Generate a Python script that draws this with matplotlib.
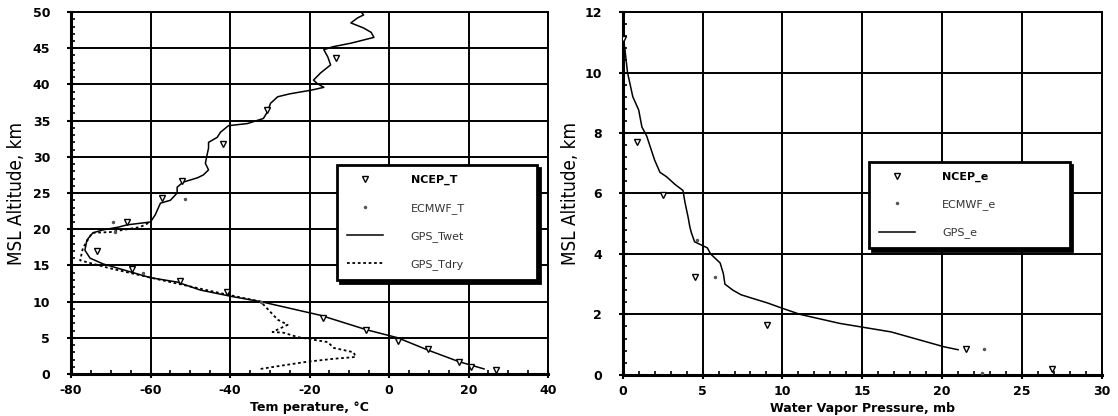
import numpy as np
import matplotlib
matplotlib.use("Agg")
import matplotlib.pyplot as plt
from matplotlib.ticker import MultipleLocator

plt.rcParams.update({"font.family": ["DejaVu Sans"], "font.weight": "bold",
                     "axes.unicode_minus": False})

# left panel: temperature profiles (altitude km, temperature C)
twet_alt = [0.7, 1.7, 3.3, 5.0, 6.1, 8.1, 10.0, 10.7, 11.6, 12.7, 13.3, 15.2, 16.0, 17.1,
            18.5, 19.5, 19.9, 20.3, 20.6, 21.0, 22.0, 23.6, 24.0, 25.0, 25.8, 26.5, 27.1,
            27.5, 28.2, 29.1, 30.2, 31.2, 32.0, 32.7, 33.4, 34.3, 34.6, 35.3, 36.2, 37.4,
            38.3, 38.7, 39.2, 39.6, 40.1, 40.6, 41.6, 42.7, 43.8, 44.8, 45.2, 45.7, 46.5,
            47.2, 47.8, 48.5, 49.2, 49.6, 50.0]
twet_t = [23.9, 17.6, 9.8, 2.2, -5.6, -17.2, -32.3, -39.5, -47.5, -53.3, -60.0, -71.9, -75.2,
          -76.5, -76.0, -74.5, -72.0, -68.0, -65.9, -60.0, -58.8, -57.5, -55.0, -53.3, -53.3,
          -51.8, -48.2, -46.7, -45.4, -46.2, -45.8, -45.4, -45.4, -43.2, -42.4, -40.4, -35.6,
          -31.6, -30.6, -29.8, -28.0, -25.0, -19.7, -16.4, -18.0, -19.0, -17.2, -14.7, -15.4,
          -16.4, -14.2, -9.6, -3.8, -4.5, -6.4, -9.6, -7.9, -6.4, -7.0]

tdry_alt = [0.7, 1.2, 1.7, 2.1, 2.35, 3.0, 3.6, 4.4, 4.8, 5.1, 5.7, 5.8, 6.8, 7.5, 10.0,
            11.0, 13.0, 14.6, 15.7, 17.4, 19.5, 19.6, 20.3, 21.0]
tdry_t = [-32.3, -26.5, -20.5, -13.9, -8.4, -8.9, -13.9, -15.4, -19.7, -23.0, -26.5, -29.3,
          -25.5, -28.0, -32.3, -41.0, -57.5, -70.2, -77.7, -77.0, -74.7, -70.2, -62.6, -60.0]

ncep_t_alt = [0.5, 1.0, 1.7, 3.4, 4.6, 6.1, 7.8, 11.3, 12.8, 14.5, 17.0, 21.0, 24.3, 26.7,
              31.8, 36.5, 43.6]
ncep_t = [27.0, 20.6, 17.6, 9.8, 2.2, -5.9, -16.7, -40.7, -52.5, -64.6, -73.5, -66.0,
          -57.0, -52.0, -41.7, -30.6, -13.4]

ecmwf_t_alt = [10.0, 21.0, 24.2, 19.6, 14.0]
ecmwf_t = [-32.3, -69.4, -51.3, -69.0, -62.0]

# right panel: water vapour pressure (altitude km, e mb)
gps_e_alt = [11.2, 10.8, 10.0, 9.2, 8.76, 8.2, 7.9, 7.1, 6.7, 6.55, 6.3, 6.1, 5.7, 5.2, 4.9,
             4.7, 4.4, 4.2, 4.0, 3.7, 3.35, 3.0, 2.8, 2.65, 2.55, 2.38, 2.2, 2.0, 1.7, 1.42,
             0.93, 0.83]
gps_e = [0.0, 0.13, 0.3, 0.63, 1.0, 1.2, 1.5, 2.0, 2.33, 2.75, 3.27, 3.77, 3.9, 4.1, 4.2,
         4.3, 4.5, 5.3, 5.5, 6.1, 6.3, 6.4, 6.9, 7.4, 8.0, 9.05, 10.0, 11.1, 13.6, 16.8,
         20.1, 21.0]

ncep_e_alt = [11.1, 7.7, 5.95, 3.25, 1.65, 0.86, 0.2]
ncep_e = [0.0, 0.9, 2.5, 4.5, 9.05, 21.5, 26.9]

ecmwf_e_alt = [4.45, 3.25, 0.86, 0.07]
ecmwf_e = [4.65, 5.8, 22.6, 22.5]

tick_font = {"family": "DejaVu Sans", "weight": "bold", "size": 9}
ylab_font = {"family": "DejaVu Sans", "size": 13.5, "weight": "normal",
             "stretch": "condensed"}


def style_axes(ax):
    ax.grid(True, which="major", color="black", lw=1.4)
    ax.set_axisbelow(True)
    for s in ax.spines.values():
        s.set_linewidth(1.4)
    ax.spines["left"].set_linewidth(2.2)
    ax.spines["bottom"].set_linewidth(2.2)
    ax.tick_params(which="major", direction="inout", length=6, width=1.5,
                   top=False, right=False)
    ax.tick_params(axis="y", which="major", pad=12)
    ax.tick_params(axis="x", which="major", pad=4)
    ax.tick_params(which="minor", direction="in", length=3, width=1.2,
                   top=False, right=False)
    for lab in ax.get_xticklabels() + ax.get_yticklabels():
        lab.set_fontfamily("DejaVu Sans")
        lab.set_fontweight("bold")
        lab.set_fontsize(9)


def add_legend(ax, anchor, width):
    leg = ax.legend(loc="upper left", bbox_to_anchor=(anchor[0], anchor[1], width, 0),
                    mode="expand", fancybox=False, framealpha=1, edgecolor="black",
                    shadow={"color": "black", "alpha": 1}, fontsize=8, labelspacing=1.55,
                    handlelength=3.2, handletextpad=2.5, borderpad=0.9, borderaxespad=0)
    leg.get_frame().set_linewidth(2)
    texts = leg.get_texts()
    texts[0].set_fontweight("bold")
    for t in texts[1:]:
        t.set_fontweight("normal")
        t.set_color("#333333")
    return leg


fig = plt.figure(figsize=(11.18, 4.16), dpi=100)
ax1 = fig.add_axes([0.0635, 0.101, 0.4267, 0.870])
ax2 = fig.add_axes([0.557, 0.099, 0.4285, 0.872])

ax1.plot(ncep_t, ncep_t_alt, ls="none", marker="v", ms=5, mfc="white", mec="black",
         mew=1.0, label="NCEP_T", zorder=4)
ax1.plot(ecmwf_t, ecmwf_t_alt, ls="none", marker=".", ms=3, color="#555555",
         label="ECMWF_T", zorder=4)
ax1.plot(twet_t, twet_alt, color="black", lw=1.1, label="GPS_Twet", zorder=3)
ax1.plot(tdry_t, tdry_alt, color="black", lw=1.3, ls=(0, (1.5, 1.5)), label="GPS_Tdry",
         zorder=3)
ax1.set_xlim(-80, 40)
ax1.set_ylim(0, 50)
ax1.xaxis.set_major_locator(MultipleLocator(20))
ax1.xaxis.set_minor_locator(MultipleLocator(5))
ax1.yaxis.set_major_locator(MultipleLocator(5))
ax1.yaxis.set_minor_locator(MultipleLocator(1))
style_axes(ax1)
ax1.set_xlabel("Tem perature, \u00b0C", fontdict=tick_font, labelpad=3)
ax1.set_ylabel("MSL Altitude, km", fontdict=ylab_font, labelpad=5)
add_legend(ax1, (0.558, 0.577), 0.419)

ax2.plot(ncep_e, ncep_e_alt, ls="none", marker="v", ms=5, mfc="white", mec="black",
         mew=1.0, label="NCEP_e", zorder=4)
ax2.plot(ecmwf_e, ecmwf_e_alt, ls="none", marker=".", ms=3, color="#555555",
         label="ECMWF_e", zorder=4)
ax2.plot(gps_e, gps_e_alt, color="black", lw=1.1, label="GPS_e", zorder=3)
ax2.set_xlim(0, 30)
ax2.set_ylim(0, 12)
ax2.xaxis.set_major_locator(MultipleLocator(5))
ax2.xaxis.set_minor_locator(MultipleLocator(1))
ax2.yaxis.set_major_locator(MultipleLocator(2))
ax2.yaxis.set_minor_locator(MultipleLocator(0.4))
style_axes(ax2)
ax2.set_xlabel("Water Vapor Pressure, mb", fontdict=tick_font, labelpad=3)
ax2.set_ylabel("MSL Altitude, km", fontdict=ylab_font, labelpad=3)
add_legend(ax2, (0.514, 0.587), 0.419)

fig.savefig("out.png", dpi=100)
